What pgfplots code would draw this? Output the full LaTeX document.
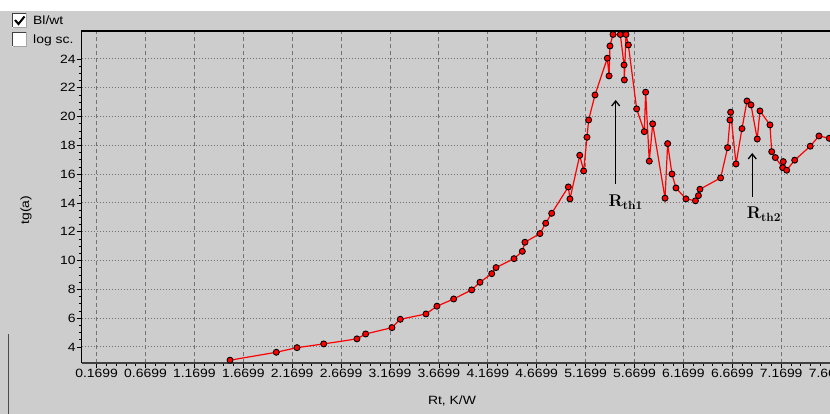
\documentclass[border=0pt]{standalone}
\usepackage{pgfplots}
\pgfplotsset{compat=1.18}
\usepackage{fontspec}
\setmainfont[FakeStretch=1.16]{Liberation Sans}
\newfontfamily\lmfont{Latin Modern Roman}
\usetikzlibrary{arrows.meta}
\definecolor{bg}{RGB}{205,205,205}
\definecolor{gridc}{RGB}{115,115,115}
\newcommand\tf{\fontsize{12}{14}\selectfont}
\begin{document}
\begin{tikzpicture}[x=1pt,y=1pt]
\useasboundingbox (0,0) rectangle (830,414);
\clip (0,0) rectangle (830,414);
\fill[bg] (0,0) rectangle (830,403);
\fill[white] (0,403) rectangle (830,414);
\draw[black!70, line width=1.5pt] (8.5,0) -- (8.5,80);
% checkboxes
\fill[white] (12,386) rectangle (27,401);
\draw[black!75, line width=1pt] (12.5,386.5) |- (26.5,400.5);
\draw[black!35, line width=1pt] (12.5,386.5) -| (26.5,400.5);
\draw[black, line width=2pt] (15,394) -- (18.5,390) -- (24.5,397.5);
\fill[white] (12,367) rectangle (27,382);
\draw[black!75, line width=1pt] (12.5,367.5) |- (26.5,381.5);
\draw[black!35, line width=1pt] (12.5,367.5) -| (26.5,381.5);
\node[anchor=west, inner sep=0pt, font=\tf] at (33,393.5) {Bl/wt};
\node[anchor=west, inner sep=0pt, font=\tf] at (33,374) {log sc.};
\node[font=\tf] at (452,13) {Rt, K/W};
\node[font=\tf, rotate=90] at (26,204) {tg(a)};
\begin{axis}[
  at={(81.7pt,50.5pt)}, anchor=south west, scale only axis,
  width=770.9pt, height=332.5pt,
  xmin=0.0175, xmax=7.9, ymin=2.85, ymax=25.94,
  xtick={0.1699,0.6699,1.1699,1.6699,2.1699,2.6699,3.1699,3.6699,4.1699,4.6699,5.1699,5.6699,6.1699,6.6699,7.1699,7.6699},
  xticklabels={0.1699,0.6699,1.1699,1.6699,2.1699,2.6699,3.1699,3.6699,4.1699,4.6699,5.1699,5.6699,6.1699,6.6699,7.1699,7.6699},
  ytick={4,6,8,10,12,14,16,18,20,22,24},
  yticklabels={4,6,8,10,12,14,16,18,20,22,24},
  minor x tick num=4, minor y tick num=3,
  tick align=outside, tick pos=left,
  major tick length=5pt, minor tick length=3pt,
  every tick/.append style={black, line width=0.8pt},
  grid=major,
  major x grid style={gridc, dash pattern=on 4pt off 3pt, line width=1pt},
  major y grid style={gridc, dash pattern=on 1pt off 2pt, line width=0.9pt},
  axis line style={draw=none},
  clip=false,
  ticklabel style={font=\tf},
  xticklabel style={inner sep=0.5pt},
  yticklabel style={inner sep=1pt},
]
\addplot[red, line width=1.2pt, mark=*, mark size=3pt,
  mark options={fill=red, draw=black, line width=0.9pt, solid}] coordinates {
(1.534,3.08) (2.007,3.63) (2.219,3.95) (2.492,4.21) (2.832,4.56) (2.921,4.90)
(3.190,5.34) (3.275,5.92) (3.538,6.29) (3.650,6.83) (3.821,7.33) (4.005,7.96)
(4.090,8.49) (4.210,9.09) (4.254,9.51) (4.438,10.13) (4.523,10.64) (4.550,11.27)
(4.703,11.87) (4.762,12.59) (4.823,13.28) (4.993,15.11) (5.010,14.28) (5.110,17.31)
(5.150,16.22) (5.184,18.56) (5.201,19.76) (5.266,21.5) (5.392,24.05) (5.410,22.82)
(5.419,24.90) (5.450,25.7) (5.525,25.7) (5.563,23.58) (5.566,22.54) (5.583,25.7)
(5.607,24.97) (5.692,20.53) (5.770,18.95) (5.784,21.69) (5.821,16.90) (5.856,19.49)
(5.982,14.33) (6.009,18.12) (6.053,16.01) (6.094,15.04) (6.196,14.28) (6.293,14.15)
(6.324,14.51) (6.339,14.95) (6.551,15.74) (6.622,17.84) (6.646,19.76) (6.653,20.30)
(6.708,16.71) (6.769,19.16) (6.820,21.08) (6.861,20.81) (6.925,18.44) (6.953,20.39)
(7.055,19.42) (7.073,17.56) (7.110,17.15) (7.185,16.45) (7.191,16.87) (7.226,16.27)
(7.308,16.97) (7.467,17.94) (7.556,18.65) (7.661,18.49)
};
\draw[black, line width=1.2pt] (rel axis cs:0,0) -- (rel axis cs:0,1) -- (rel axis cs:1,1);
\draw[black!75, line width=2pt] (rel axis cs:0,0) -- (rel axis cs:1,0);
\draw[black, line width=1.3pt, -{Straight Barb[length=5pt,width=8pt]}] (axis cs:5.4777,15.32) -- (axis cs:5.4777,21.15);
\draw[black, line width=1.3pt, -{Straight Barb[length=5pt,width=8pt]}] (axis cs:6.874,14.42) -- (axis cs:6.874,17.47);
\node[anchor=base west, inner sep=0pt, font=\fontsize{17}{20}\selectfont\lmfont\bfseries] at (axis cs:5.403,13.74) {R\textsubscript{th1}};
\node[anchor=base west, inner sep=0pt, font=\fontsize{17}{20}\selectfont\lmfont\bfseries] at (axis cs:6.817,12.89) {R\textsubscript{th2}};
\end{axis}
\end{tikzpicture}
\end{document}
